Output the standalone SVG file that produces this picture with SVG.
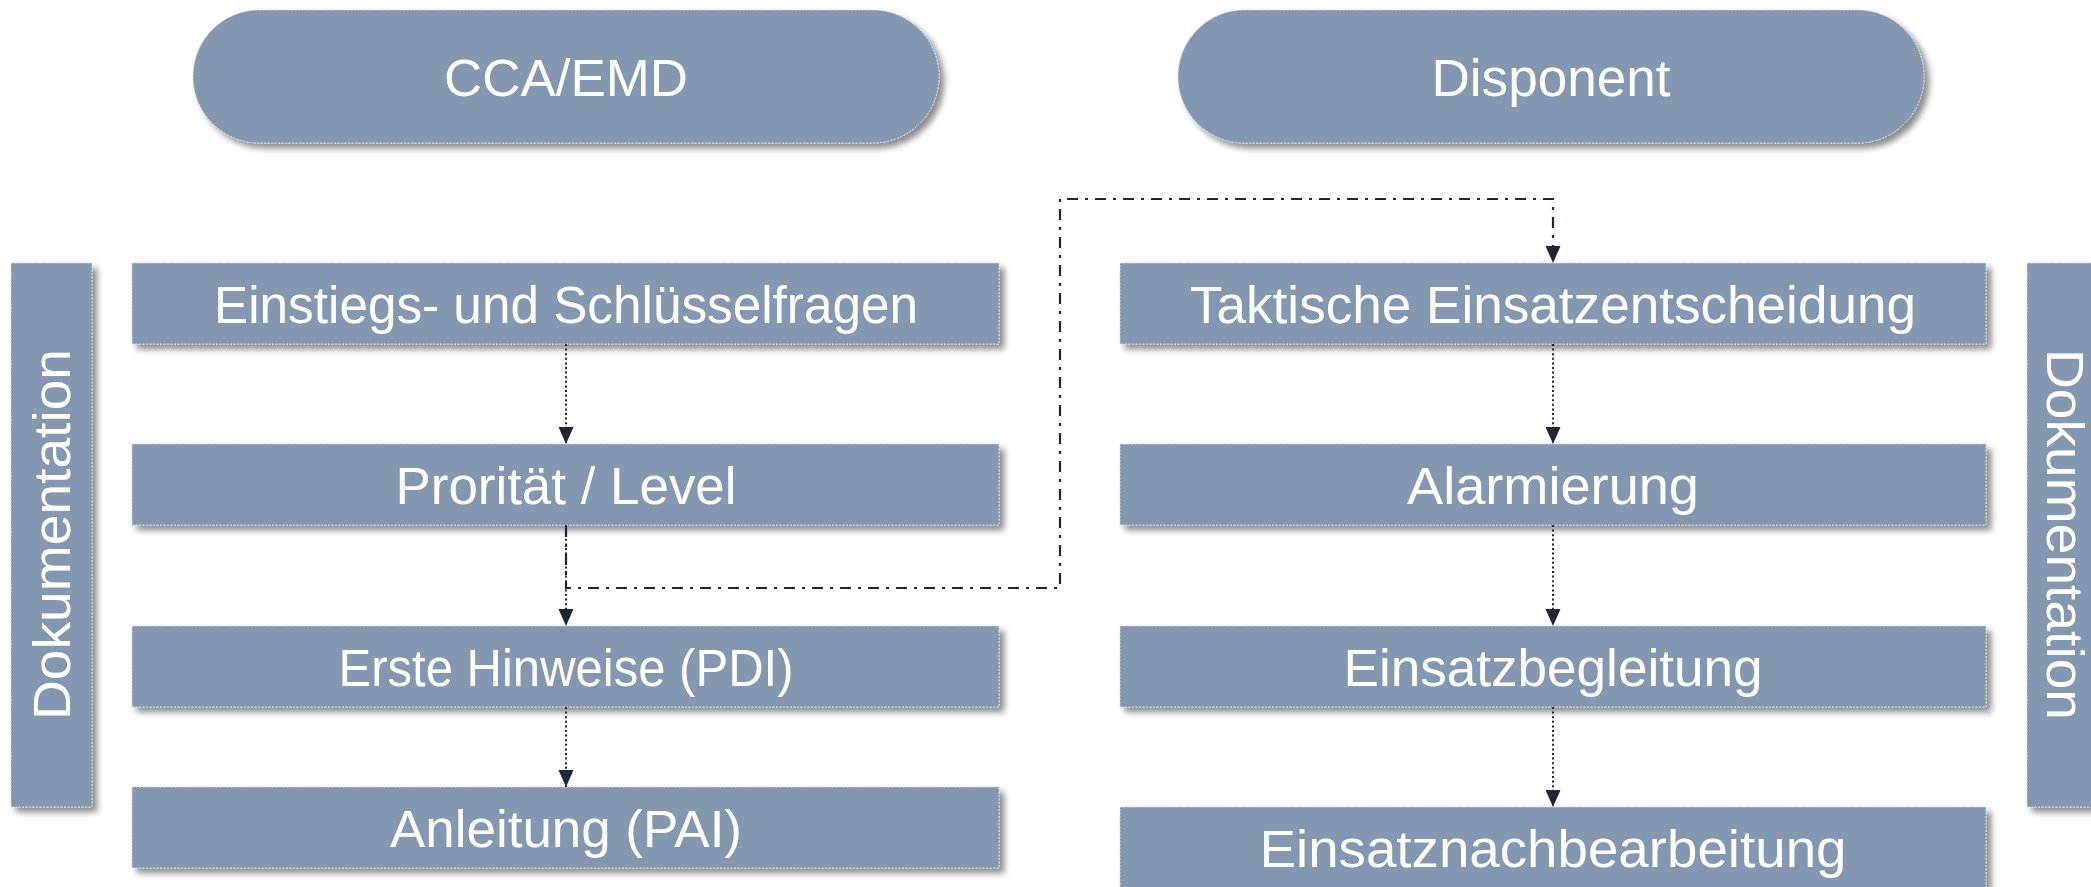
<svg xmlns="http://www.w3.org/2000/svg" width="2091" height="887" viewBox="0 0 2091 887">
<style>
.shape{fill:#8497b0;stroke:#d3d9e1;stroke-width:1;stroke-dasharray:2 1.5;filter:url(#sh);}
.lbl{font-family:"Liberation Sans",Arial,sans-serif;font-size:51px;fill:#ffffff;text-anchor:middle;}
.dot{fill:none;stroke:#1e2633;stroke-width:2;stroke-dasharray:2 2.6;}
.dashdot{fill:none;stroke:#1e2633;stroke-width:2.2;stroke-dasharray:11 7 3 7;}
</style>
<defs>
<filter id="sh" x="-10%" y="-20%" width="130%" height="150%">
<feDropShadow dx="5" dy="5" stdDeviation="3" flood-color="#000" flood-opacity="0.45"/>
</filter>
<marker id="ah" markerUnits="userSpaceOnUse" markerWidth="17" markerHeight="16" refX="17" refY="8" orient="auto" viewBox="0 0 17 16">
<path d="M0,0.5 L17,8 L0,15.5 Z" fill="#1e2633"/>
</marker>
</defs>
<g id="pill-cca">
<rect class="shape" x="193" y="10" width="746" height="133" rx="66.5"/>
<text class="lbl" x="566" y="96" textLength="244" lengthAdjust="spacingAndGlyphs">CCA/EMD</text>
</g>
<g id="pill-disponent">
<rect class="shape" x="1178" y="10" width="746" height="133" rx="66.5"/>
<text class="lbl" x="1551" y="96" textLength="239" lengthAdjust="spacingAndGlyphs">Disponent</text>
</g>
<g id="doku-left">
<rect class="shape" x="11" y="263" width="81" height="544"/>
<text class="lbl" transform="translate(70,534.5) rotate(-90)" textLength="371" lengthAdjust="spacingAndGlyphs">Dokumentation</text>
</g>
<g id="doku-right">
<rect class="shape" x="2027" y="263" width="81" height="544"/>
<text class="lbl" transform="translate(2047,534.5) rotate(90)" textLength="371" lengthAdjust="spacingAndGlyphs">Dokumentation</text>
</g>
<g id="l1">
<rect class="shape" x="132" y="263" width="867" height="81"/>
<text class="lbl" x="566" y="323" textLength="704" lengthAdjust="spacingAndGlyphs">Einstiegs- und Schlüsselfragen</text>
</g>
<g id="l2">
<rect class="shape" x="132" y="444" width="867" height="81"/>
<text class="lbl" x="566" y="504" textLength="341" lengthAdjust="spacingAndGlyphs">Prorität / Level</text>
</g>
<g id="l3">
<rect class="shape" x="132" y="626" width="867" height="81"/>
<text class="lbl" x="566" y="686" textLength="455" lengthAdjust="spacingAndGlyphs">Erste Hinweise (PDI)</text>
</g>
<g id="l4">
<rect class="shape" x="132" y="787" width="867" height="81"/>
<text class="lbl" x="566" y="847" textLength="352" lengthAdjust="spacingAndGlyphs">Anleitung (PAI)</text>
</g>
<g id="r1">
<rect class="shape" x="1120" y="263" width="866" height="81"/>
<text class="lbl" x="1553" y="323" textLength="726" lengthAdjust="spacingAndGlyphs">Taktische Einsatzentscheidung</text>
</g>
<g id="r2">
<rect class="shape" x="1120" y="444" width="866" height="81"/>
<text class="lbl" x="1553" y="504" textLength="292" lengthAdjust="spacingAndGlyphs">Alarmierung</text>
</g>
<g id="r3">
<rect class="shape" x="1120" y="626" width="866" height="81"/>
<text class="lbl" x="1553" y="686" textLength="419" lengthAdjust="spacingAndGlyphs">Einsatzbegleitung</text>
</g>
<g id="r4">
<rect class="shape" x="1120" y="807" width="866" height="81"/>
<text class="lbl" x="1553" y="867" textLength="587" lengthAdjust="spacingAndGlyphs">Einsatznachbearbeitung</text>
</g>
<g id="connectors">
<path class="dot" d="M566,344 V444" marker-end="url(#ah)"/>
<path class="dot" d="M566,525 V626" marker-end="url(#ah)"/>
<path class="dot" d="M566,707 V787" marker-end="url(#ah)"/>
<path class="dot" d="M1553,344 V444" marker-end="url(#ah)"/>
<path class="dot" d="M1553,525 V626" marker-end="url(#ah)"/>
<path class="dot" d="M1553,707 V807" marker-end="url(#ah)"/>
<path class="dashdot" d="M566,526 V588 H1060 V199 H1553 V263" marker-end="url(#ah)"/>
</g>
</svg>
